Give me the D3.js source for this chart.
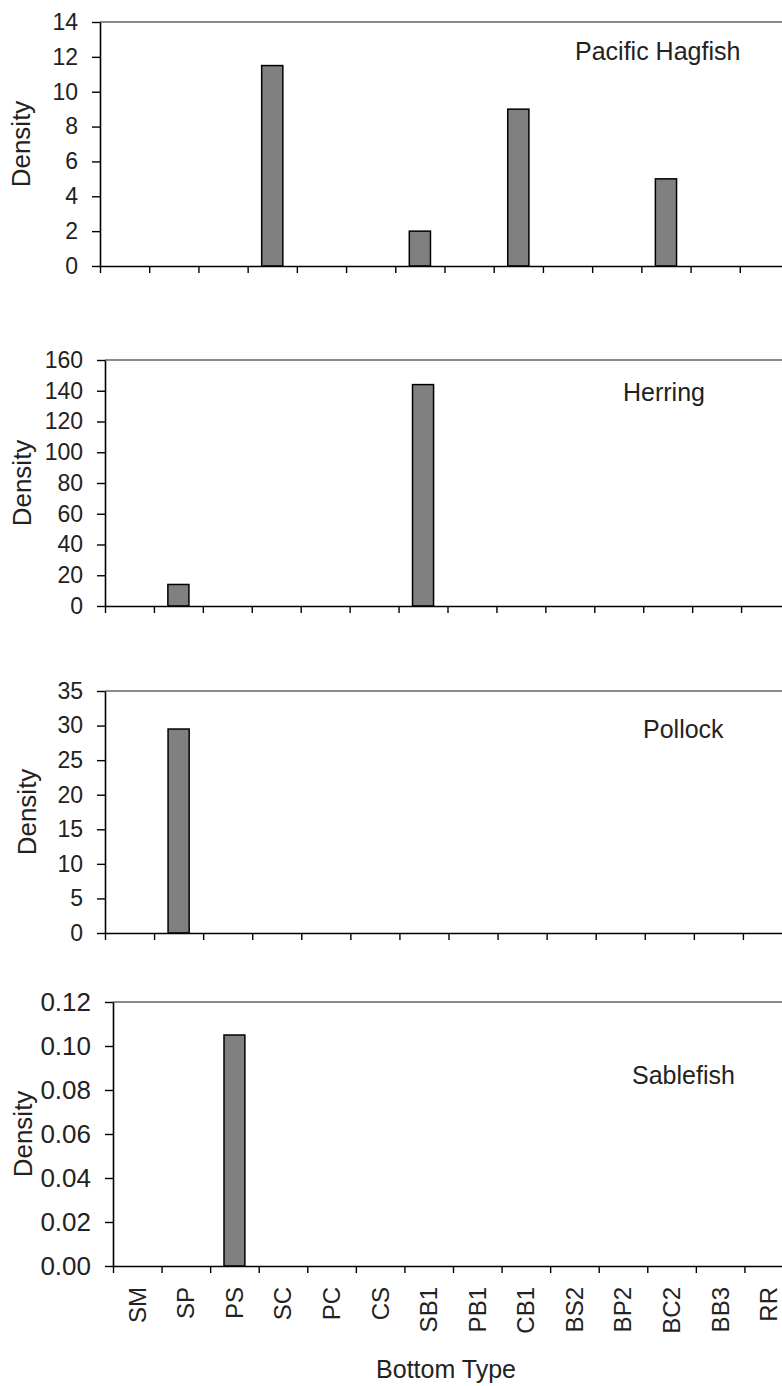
<!DOCTYPE html>
<html>
<head>
<meta charset="utf-8">
<script src="https://cdn.jsdelivr.net/npm/d3@7"></script>
<style>
  html, body { margin: 0; padding: 0; background: #fff; }
  svg { display: block; font-family: "Liberation Sans", Arial, sans-serif; }
</style>
</head>
<body>
<svg id="chart" width="782" height="1386"></svg>
<script>
// ---- data ----
const categories = ["SM","SP","PS","SC","PC","CS","SB1","PB1","CB1","BS2","BP2","BC2","BB3","RR"];
const speciesNames = ["Pacific Hagfish","Herring","Pollock","Sablefish"];
const hagfishDensity   = [0, 0, 0, 11.5, 0, 0, 2, 0, 9, 0, 0, 5, 0, 0];
const herringDensity   = [0, 14, 0, 0, 0, 0, 144, 0, 0, 0, 0, 0, 0, 0];
const pollockDensity   = [0, 29.5, 0, 0, 0, 0, 0, 0, 0, 0, 0, 0, 0, 0];
const sablefishDensity = [0, 0, 0.105, 0, 0, 0, 0, 0, 0, 0, 0, 0, 0, 0];
const yAxisMax  = [14, 160, 35, 0.12];
const yAxisStep = [2, 20, 5, 0.02];
const yTickFormats = ["d", "d", "d", ".2f"];
const yAxisTitle = "Density";
const xAxisTitle = "Bottom Type";

const seriesValues = [hagfishDensity, herringDensity, pollockDensity, sablefishDensity];

// ---- layout (positions only) ----
const layout = [
  {left: 100, top: 22,   bottom: 266,  right: 789, titleX: 575, titleY: 60,   labelX: 30, tickFont: 23},
  {left: 105, top: 360,  bottom: 606,  right: 790, titleX: 623, titleY: 401,  labelX: 31, tickFont: 23},
  {left: 105, top: 691,  bottom: 933,  right: 792, titleX: 643, titleY: 738,  labelX: 36, tickFont: 23},
  {left: 113, top: 1002, bottom: 1266, right: 793, titleX: 632, titleY: 1084, labelX: 32, tickFont: 26}
];

const svg = d3.select("#chart");

speciesNames.forEach((name, i) => {
  const L = layout[i];
  const values = seriesValues[i];
  const g = svg.append("g");

  const xBand = d3.scaleBand().domain(categories).range([L.left, L.right]).padding(0);
  const xLin = d3.scaleLinear().domain([0, categories.length]).range([L.left, L.right]);
  const y = d3.scaleLinear().domain([0, yAxisMax[i]]).range([L.bottom, L.top]);

  // top frame line (grey)
  g.append("line")
    .attr("x1", L.left).attr("x2", L.right)
    .attr("y1", y(yAxisMax[i])).attr("y2", y(yAxisMax[i]))
    .attr("stroke", "#8a8a8a").attr("stroke-width", 2);

  // bars
  const bw = xBand.bandwidth() * 0.43;
  g.selectAll("rect.bar")
    .data(categories.map((c, k) => ({c, v: values[k]})).filter(d => d.v > 0))
    .join("rect")
    .attr("class", "bar")
    .attr("x", d => xBand(d.c) + (xBand.bandwidth() - bw) / 2)
    .attr("width", bw)
    .attr("y", d => y(d.v))
    .attr("height", d => y(0) - y(d.v))
    .attr("fill", "#808080")
    .attr("stroke", "#000")
    .attr("stroke-width", 1.5);

  // y axis
  const yTicks = d3.range(0, yAxisMax[i] + yAxisStep[i] / 2, yAxisStep[i]);
  const yAxis = d3.axisLeft(y)
    .tickValues(yTicks)
    .tickFormat(d3.format(yTickFormats[i]))
    .tickSizeInner(8).tickSizeOuter(0).tickPadding(14);
  const ya = g.append("g").attr("transform", `translate(${L.left},0)`).call(yAxis);
  ya.select(".domain").attr("stroke", "#000").attr("stroke-width", 1.6);
  ya.selectAll(".tick line").attr("stroke", "#000").attr("stroke-width", 1.4);
  ya.selectAll(".tick text")
    .attr("font-size", L.tickFont)
    .attr("fill", "#222")
    .attr("font-family", "'Liberation Sans', Arial, sans-serif");

  // x axis (ticks at category boundaries)
  const xAxis = d3.axisBottom(xLin)
    .tickValues(d3.range(0, categories.length + 1))
    .tickFormat("")
    .tickSizeInner(7).tickSizeOuter(0);
  const xa = g.append("g").attr("transform", `translate(0,${L.bottom})`).call(xAxis);
  xa.select(".domain").attr("stroke", "#000").attr("stroke-width", 1.6);
  xa.selectAll(".tick line").attr("stroke", "#000").attr("stroke-width", 1.4);

  // category labels on the bottom panel only
  if (i === speciesNames.length - 1) {
    const xl = d3.axisBottom(xBand).tickSize(0).tickPadding(0);
    const xlg = g.append("g").attr("transform", `translate(0,${L.bottom})`).call(xl);
    xlg.select(".domain").remove();
    xlg.selectAll(".tick text")
      .attr("font-size", 24)
      .attr("fill", "#222")
      .attr("font-family", "'Liberation Sans', Arial, sans-serif")
      .attr("text-anchor", "end")
      .attr("transform", "translate(0,21) rotate(-90)")
      .attr("x", 0).attr("y", 0)
      .attr("dy", "0.35em");

    svg.append("text")
      .attr("x", 446).attr("y", 1378)
      .attr("text-anchor", "middle")
      .attr("font-size", 25)
      .attr("fill", "#222")
      .text(xAxisTitle);
  }

  // y axis title
  g.append("text")
    .attr("transform", `translate(${L.labelX},${(L.top + L.bottom) / 2}) rotate(-90)`)
    .attr("text-anchor", "middle")
    .attr("font-size", 26)
    .attr("fill", "#222")
    .text(yAxisTitle);

  // panel title
  g.append("text")
    .attr("x", L.titleX).attr("y", L.titleY)
    .attr("font-size", 25)
    .attr("fill", "#222")
    .text(name);
});
</script>
</body>
</html>
